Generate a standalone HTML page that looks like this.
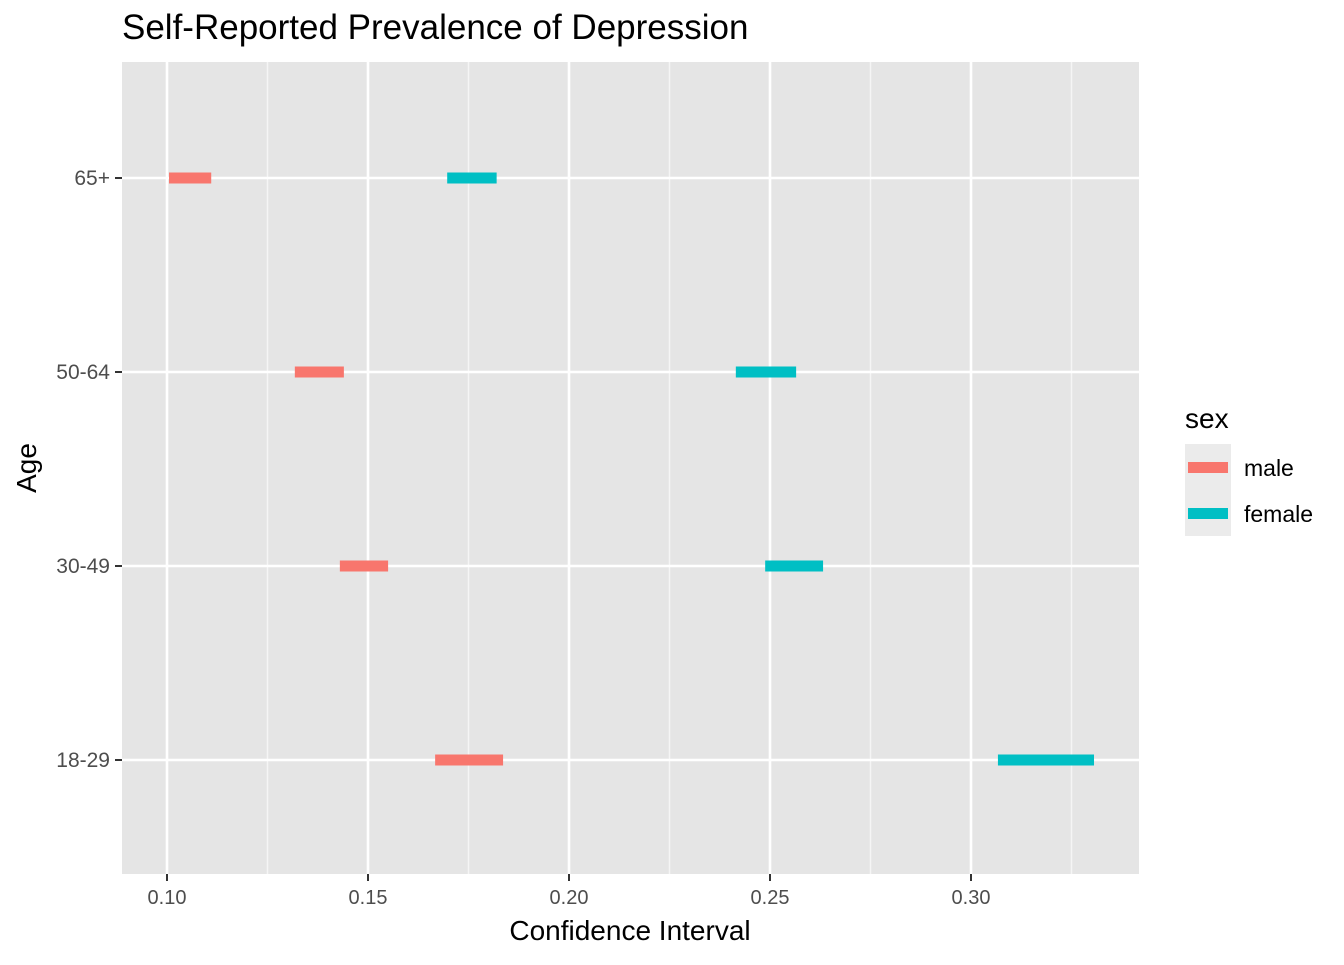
<!DOCTYPE html>
<html><head><meta charset="utf-8">
<style>
body{margin:0;background:#fff;font-family:"Liberation Sans",Arial,sans-serif;}
svg text{font-family:"Liberation Sans",Arial,sans-serif;}
</style></head>
<body>
<svg id="chart" width="1344" height="960" xmlns="http://www.w3.org/2000/svg">
<text x="122" y="39" font-size="35" fill="#000">Self-Reported Prevalence of Depression</text>
<rect x="122" y="62" width="1017" height="812" fill="#e5e5e5"/>
<g id="grid"></g>
<g id="marks"></g>
<g id="axes"></g>
<text x="630" y="940" font-size="28" text-anchor="middle" fill="#000">Confidence Interval</text>
<text transform="translate(36,468) rotate(-90)" font-size="28" text-anchor="middle" fill="#000">Age</text>
<g>
<text x="1185" y="428" font-size="28" fill="#000">sex</text>
<rect x="1185" y="444" width="46" height="46" fill="#ebebeb"/>
<rect x="1185" y="490" width="46" height="46" fill="#ebebeb"/>
<rect x="1188" y="462" width="40" height="11" fill="#F8766D"/>
<rect x="1188" y="508" width="40" height="11" fill="#00BFC4"/>
<text x="1244" y="476" font-size="23" fill="#000">male</text>
<text x="1244" y="522" font-size="23" fill="#000">female</text>
</g>
</svg>
<script>
const categories = ["18-29","30-49","50-64","65+"];
const maleLow = [0.1667,0.143,0.1318,0.1005];
const maleHigh = [0.1836,0.155,0.144,0.111];
const femaleLow = [0.3067,0.2488,0.2415,0.1697];
const femaleHigh = [0.3306,0.2632,0.2565,0.182];
const xTicks = [0.10,0.15,0.20,0.25,0.30];
const xTickLabels = ["0.10","0.15","0.20","0.25","0.30"];

const NS="http://www.w3.org/2000/svg";
function x(v){return 167+(v-0.1)*4020;}
function y(i){return 760-i*194;}
function mk(tag,attrs,parent){const e=document.createElementNS(NS,tag);for(const k in attrs)e.setAttribute(k,attrs[k]);parent.appendChild(e);return e;}
const grid=document.getElementById('grid'),marks=document.getElementById('marks'),axes=document.getElementById('axes');
for(let i=0;i<xTicks.length;i++){
  const m=xTicks[i]+0.025;
  const g=mk('line',{x1:x(m),x2:x(m),y1:62,y2:874,stroke:'#f5f5f5','stroke-width':1.5},grid);
  
  
}
xTicks.forEach((t,i)=>{
  const g=mk('line',{x1:x(t),x2:x(t),y1:62,y2:874,stroke:'#fff','stroke-width':2.6},grid);
  
  
  mk('line',{x1:x(t),x2:x(t),y1:874,y2:881,stroke:'#333','stroke-width':2},axes);
  const tx=mk('text',{x:x(t),y:904,'font-size':20,'text-anchor':'middle',fill:'#4d4d4d'},axes);
  tx.textContent=xTickLabels[i];
  
  
});
categories.forEach((c,i)=>{
  const g=mk('line',{x1:122,x2:1139,y1:y(i),y2:y(i),stroke:'#fff','stroke-width':2.6},grid);
  
  
  mk('line',{x1:115,x2:122,y1:y(i),y2:y(i),stroke:'#333','stroke-width':2},axes);
  const tx=mk('text',{x:110,y:y(i)+7,'font-size':21,'text-anchor':'end',fill:'#4d4d4d'},axes);
  tx.textContent=c;
  
  
  const m=mk('line',{x1:x(maleLow[i]),x2:x(maleHigh[i]),y1:y(i),y2:y(i),stroke:'#F8766D','stroke-width':11},marks);
  
  
  const f=mk('line',{x1:x(femaleLow[i]),x2:x(femaleHigh[i]),y1:y(i),y2:y(i),stroke:'#00BFC4','stroke-width':11},marks);
  
  
});
</script>
</body></html>
